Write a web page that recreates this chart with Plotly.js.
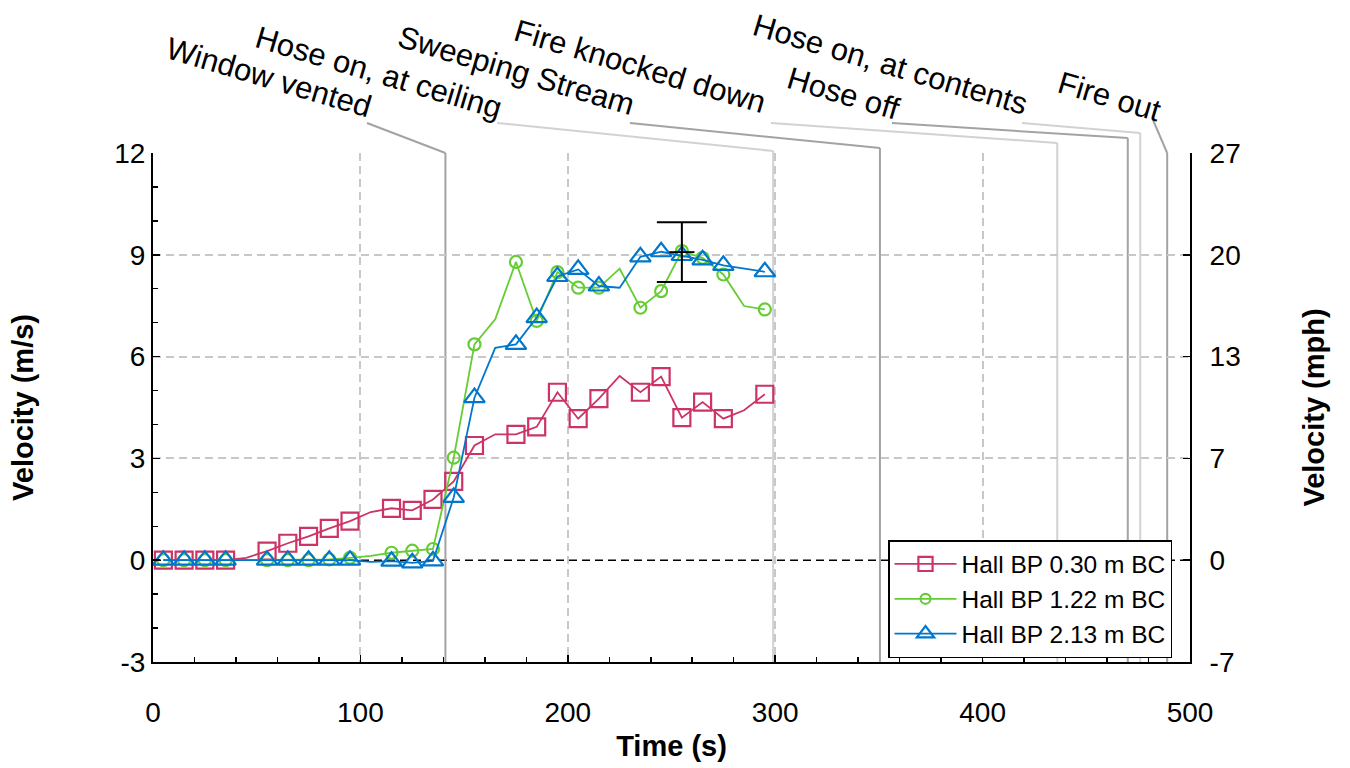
<!DOCTYPE html>
<html><head><meta charset="utf-8">
<script src="https://cdn.plot.ly/plotly-3.0.1.min.js"></script>
<style>html,body{margin:0;padding:0;background:#fff}</style>
</head><body><div id="chart" style="width:1350px;height:768px"></div>
<script>
// ---------------- data ----------------
const time = [5,15,25,35,45,55,65,75,85,95,105,115,125,135,145,155,165,175,185,195,205,215,225,235,245,255,265,275,285,295];
const hall030 = [0.0,0.0,0.0,0.0,0.07,0.27,0.5,0.7,0.94,1.15,1.42,1.53,1.47,1.79,2.32,3.38,3.71,3.71,3.93,4.95,4.17,4.76,5.43,4.95,5.41,4.2,4.66,4.17,4.42,4.89];
const hall122 = [0.0,0.0,0.0,0.0,0.0,0.0,0.0,0.0,0.02,0.07,0.13,0.22,0.28,0.33,3.02,6.36,7.1,8.79,7.05,8.49,8.03,8.03,8.59,7.44,7.93,9.11,8.91,8.42,7.49,7.39];
const hall213 = [0.0,0.0,0.0,0.0,0.0,0.0,0.0,0.0,0.0,0.0,-0.05,-0.03,-0.08,-0.02,1.85,4.79,6.26,6.36,7.15,8.36,8.57,8.08,8.03,8.94,9.09,8.98,8.85,8.69,8.6,8.5];
const seriesNames = ['Hall BP 0.30 m BC','Hall BP 1.22 m BC','Hall BP 2.13 m BC'];
const errTime = [255];
const errMean = [9.08];
const errHalf = [0.88];
const eventTimes = [141,299,350.5,436,470,476,489];
const eventLabels = ['Window vented','Hose on, at ceiling','Sweeping Stream','Fire knocked down','Hose off','Hose on, at contents','Fire out'];
const yTicks = [-3,0,3,6,9,12];
const mphTickText = ['-7','0','7','13','20','27'];
const xTicks = [0,100,200,300,400,500];
const MS_TO_MPH = 2.23694;

// ---------------- style / layout ----------------
const FONT = 'Liberation Sans, Arial, sans-serif';
const colors = ['#cc3366','#66cc33','#0077cc'];
const symbols = ['square-open','circle-open','triangle-up-open'];
const mSize = [17,12,18];
const unmarkedTimes = [45,105,165,225,285];
const L=153, R=1190, T=153, B=662;
const px2t = px => (px-L)/(R-L)*500;
const py2p = py => (B-py)/(B-T);
// label centres (px), leader starts (px), bend heights (px), shade
const labelCenter = [[269,77],[378,73],[516,70],[640,66],[843,93],[890,65],[1109,96]];
const leaderStart = [[367,123],[497,123],[630,123],[771,123],[892,123],[1022,123],[1153,120]];
const bendY = [153,151,148,143,138,133,153];
const shade = ['#a3a3a3','#d2d2d2','#a3a3a3','#d2d2d2','#a3a3a3','#d2d2d2','#a3a3a3'];

const series = [hall030, hall122, hall213];
const traces = series.map((vals,i)=>({
  x: time, y: vals, type:'scatter', mode:'lines+markers', name: seriesNames[i],
  line:{color:colors[i], width:1.8},
  marker:{symbol:symbols[i], color:colors[i], opacity:1,
    size: time.map(t=> unmarkedTimes.includes(t)?0:mSize[i]),
    line:{color:colors[i], width:2.2}}
}));
traces.push({x:errTime, y:errMean, type:'scatter', mode:'markers', showlegend:false,
  marker:{symbol:'line-ew', size:18, color:'#000', line:{color:'#000',width:1.8}},
  error_y:{type:'data', array:errHalf, visible:true, color:'#000', thickness:2, width:25}});
traces.push({x:[], y:[], yaxis:'y2', showlegend:false, type:'scatter'});

const shapes = [{type:'line', xref:'paper', x0:0, x1:1, yref:'y', y0:0, y1:0,
  line:{color:'#000', width:1.6, dash:'8px,5px'}, layer:'below'}];
eventTimes.forEach((t,i)=>{
  shapes.push({type:'line', xref:'x', yref:'paper', x0:px2t(leaderStart[i][0]), y0:py2p(leaderStart[i][1]),
    x1:t, y1:py2p(bendY[i]), line:{color:shade[i], width:2}, layer:'below'});
  shapes.push({type:'line', xref:'x', yref:'paper', x0:t, y0:py2p(bendY[i]), x1:t, y1:0,
    line:{color:shade[i], width:2}, layer:'below'});
});
const annotations = eventLabels.map((txt,i)=>({
  text: txt, xref:'paper', yref:'paper',
  x:(labelCenter[i][0]-L)/(R-L), y:py2p(labelCenter[i][1]),
  xanchor:'center', yanchor:'middle', showarrow:false, textangle:16.5,
  font:{family:FONT, size:31, color:'#000'}
}));

const axisCommon = {showline:true, linecolor:'#000', linewidth:2, ticks:'inside', tickcolor:'#000',
  tickwidth:1.5, ticklen:7, zeroline:false, tickfont:{family:FONT, size:28, color:'#000'}};

const layout = {
  width:1350, height:768, margin:{l:L, r:1350-R, t:T, b:768-B},
  paper_bgcolor:'#fff', plot_bgcolor:'#fff', font:{family:FONT, color:'#000'},
  showlegend:true,
  xaxis: Object.assign({}, axisCommon, {range:[0,500], tickvals:xTicks, ticktext:xTicks.map(String),
    showgrid:true, gridcolor:'#c8c8c8', gridwidth:2, griddash:'8px,5px',
    minor:{dtick:20, tick0:0, ticks:'inside', ticklen:5, tickwidth:1.5, tickcolor:'#000', showgrid:false},
    ticklabelstandoff:24,
    title:{text:'<b>Time (s)</b>', font:{family:FONT, size:29, color:'#000'}, standoff:9}}),
  yaxis: Object.assign({}, axisCommon, {range:[-3,12], tickvals:yTicks, ticktext:yTicks.map(String),
    showgrid:true, gridcolor:'#c8c8c8', gridwidth:2, griddash:'8px,5px',
    zeroline:true, zerolinecolor:'rgba(0,0,0,0)', zerolinewidth:1,
    minor:{dtick:1, tick0:0, ticks:'inside', ticklen:5, tickwidth:1.5, tickcolor:'#000', showgrid:false},
    ticklabelstandoff:0,
    title:{text:'<b>Velocity (m/s)</b>', font:{family:FONT, size:29, color:'#000'}, standoff:72}}),
  yaxis2: Object.assign({}, axisCommon, {overlaying:'y', side:'right', anchor:'x',
    range:[-3*MS_TO_MPH, 12*MS_TO_MPH], tickvals:yTicks.map(v=>v*MS_TO_MPH), ticktext:mphTickText,
    showgrid:false, ticklabelstandoff:12,
    title:{text:'<b>Velocity (mph)</b>', font:{family:FONT, size:29, color:'#000'}, standoff:64}}),
  legend:{x:(888-L)/(R-L), y:py2p(540), xanchor:'left', yanchor:'top', bgcolor:'#fff',
    bordercolor:'#000', borderwidth:1.5, font:{family:FONT, size:24.5, color:'#000'}, itemwidth:62,
    tracegroupgap:0},
  shapes: shapes, annotations: annotations
};
Plotly.newPlot('chart', traces, layout, {displayModeBar:false, staticPlot:true});
</script></body></html>
